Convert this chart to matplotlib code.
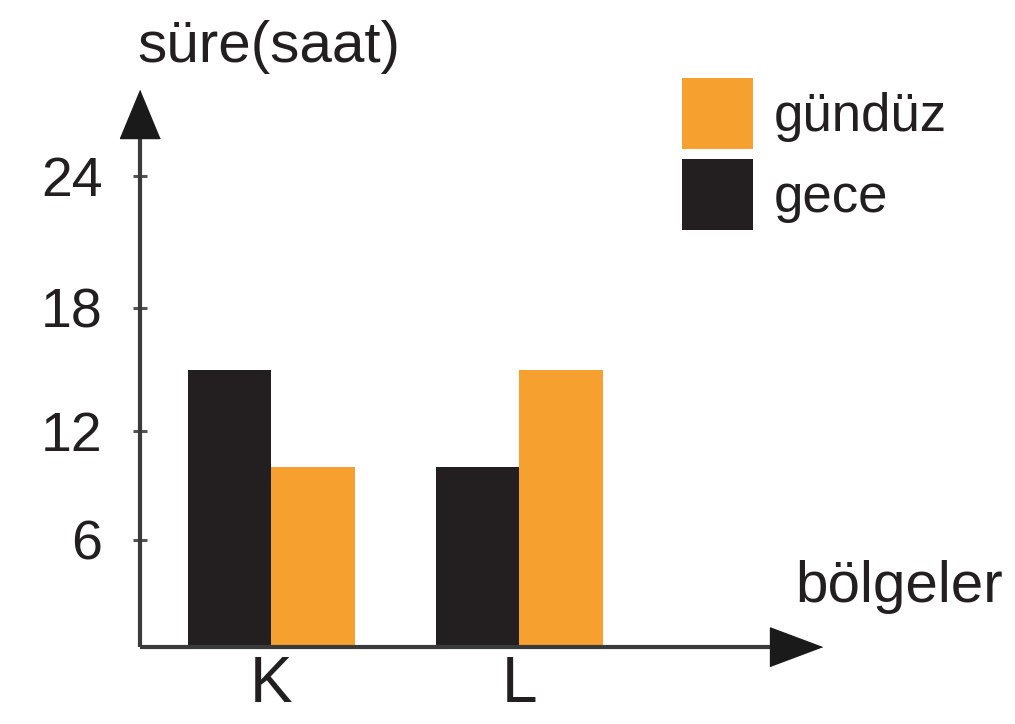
import numpy as np
from matplotlib import pyplot as plt

plt.rcParams['font.family'] = ['Liberation Sans', 'DejaVu Sans']

# data
regions = ['K', 'L']
gece = [15, 10]      # night hours
gunduz = [10, 15]    # day hours
y_ticks = [6, 12, 18, 24]

# the drawn y axis is not evenly spaced, so map values onto it piecewise
y_knots = [0, 6, 12, 18, 24, 30]
px_knots = [0, 107, 216, 339, 471, 603]

def forward(y):
    return np.interp(y, y_knots, px_knots)

def inverse(p):
    return np.interp(p, px_knots, y_knots)

text_color = '#231f20'
black = '#231f20'
orange = '#f6a030'
axis_color = '#3a3a3a'


def main():
    fig = plt.figure(figsize=(10.15, 7.24), dpi=100)
    W, H = 1015.0, 724.0
    # axes box in pixels: left 140, right 822, bottom 647, top 90
    ax = fig.add_axes([140 / W, (H - 647) / H, (822 - 140) / W, (647 - 90) / H])
    ax.set_yscale('function', functions=(forward, inverse))
    ax.set_ylim(0, inverse(557))
    ax.set_xlim(-0.530, 2.220)

    x = np.arange(len(regions))
    w = 0.335
    b_night = ax.bar(x - w / 2, gece, width=w, color=black, linewidth=0)
    b_day = ax.bar(x + w / 2, gunduz, width=w, color=orange, linewidth=0)

    for s in ax.spines.values():
        s.set_visible(False)

    # axis lines with arrow heads
    ax.plot([0, 0], [0, 509 / 557], color=axis_color, lw=3, transform=ax.transAxes,
            clip_on=False, solid_capstyle='butt')
    ax.plot([0, 630 / 682], [0, 0], color=axis_color, lw=3, transform=ax.transAxes,
            clip_on=False, solid_capstyle='butt')
    ax.plot([0], [533 / 557], marker=[(0, 1), (-0.83, -1), (0.83, -1)], markersize=34.6,
            color='#1a1a1a', transform=ax.transAxes, clip_on=False, linestyle='none')
    ax.plot([656 / 682], [0], marker=[(1, 0), (-1, 0.75), (-1, -0.75)], markersize=37.4,
            color='#1a1a1a', transform=ax.transAxes, clip_on=False, linestyle='none')

    ax.set_yticks(y_ticks)
    ax.set_yticklabels([str(t) for t in y_ticks])
    ax.tick_params(axis='y', direction='inout', length=10, width=2.2, color='#555555',
                   labelsize=40, labelcolor=text_color, pad=22)
    ax.yaxis.set_minor_locator(plt.NullLocator())

    ax.set_xticks(x)
    ax.set_xticklabels(regions)
    ax.tick_params(axis='x', length=0, labelsize=46, labelcolor=text_color, pad=6)

    # axis titles
    fig.text(137 / W, 1 - 62 / H, 's\u00fcre(saat)', fontsize=42, color=text_color,
             ha='left', va='baseline')
    fig.text(795 / W, 1 - 602 / H, 'b\u00f6lgeler', fontsize=42, color=text_color,
             ha='left', va='baseline')

    # legend with big square keys
    ax.legend([b_day, b_night], ['g\u00fcnd\u00fcz', 'gece'], loc='upper left',
              bbox_to_anchor=(682 / W, 1 - 78 / H), bbox_transform=fig.transFigure,
              frameon=False, fontsize=38, handlelength=1.345, handleheight=1.692,
              labelspacing=0.19, handletextpad=0.4, borderpad=0, borderaxespad=0,
              labelcolor=text_color)

    fig.savefig('out.png', dpi=100)


if __name__ == "__main__":
    main()
